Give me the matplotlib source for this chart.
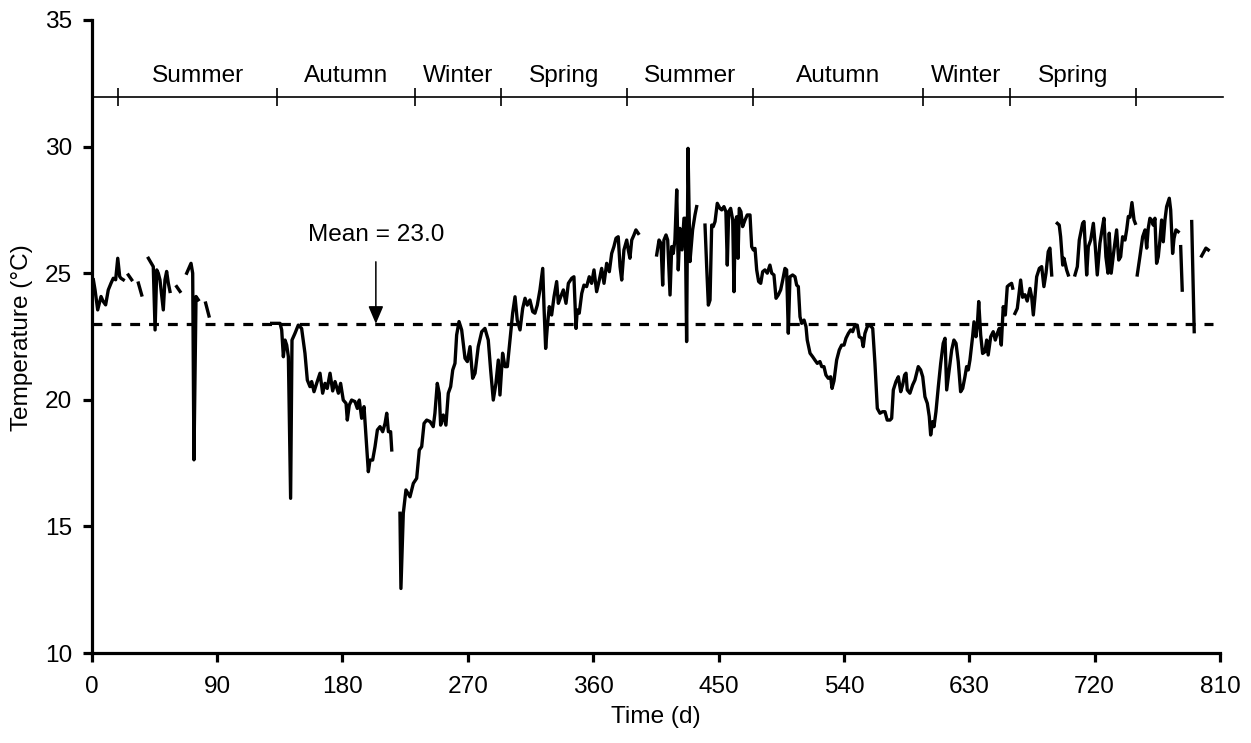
import numpy as np
import matplotlib
matplotlib.use('Agg')
import matplotlib.pyplot as plt

# ---------------- data ----------------
# daily water temperature (None = missing data / gap)
day = [
    1.2, 2.4, 4.3, 6.7, 8.3, 10.0, 11.9, 13.9, 15.5, 17.2, 18.7, 20.1, 21.0, 22.7, None,
    26.3, 28.7, None,
    33.5, 35.9, None,
    40.7, 42.1, 44.2, 45.5, 46.7, 47.8, 49.0, 51.4, 52.6, 53.8, 55.0, 56.2, None,
    61.0, 63.4, None,
    68.2, 71.3, 72.5, 73.4, 74.9, 76.5, None,
    81.8, 84.2, None,
    129.2, 135.2, 136.4, 137.6, 138.8, 140.0, 141.2, 142.8, 143.8, 145.9, 148.3, 150.7,
    153.1, 154.8, 156.7, 157.9, 159.6, 161.5, 163.9, 165.8, 167.5, 169.1, 171.1, 173.0,
    174.7, 177.1, 178.7, 180.6, 182.6, 183.5, 184.9, 186.6, 189.0, 190.7, 192.1, 193.8,
    195.5, 196.9, 198.6, 199.8, 201.7, 203.4, 205.1, 207.0, 208.9, 210.6, 211.8, 213.0,
    214.6, 215.4, None,
    221.3, 222.0, 223.7, 225.6, 228.5, 230.9, 233.3, 235.2, 236.9, 238.6, 240.5, 242.9,
    245.2, 246.4, 248.1, 249.5, 250.5, 252.4, 254.3, 256.0, 257.7, 259.2, 260.8, 262.0,
    263.7, 265.6, 268.0, 269.7, 271.6, 273.5, 275.2, 277.5, 280.0, 282.3, 284.7, 286.4,
    288.3, 290.2, 291.9, 293.1, 295.0, 296.7, 298.4, 300.3, 302.2, 303.9, 305.5, 307.5,
    309.4, 311.1, 312.7, 314.6, 316.6, 318.2, 319.9, 321.8, 323.8, 324.7, 325.9, 327.1,
    328.5, 330.2, 331.9, 333.8, 335.0, 336.7, 338.6, 340.5, 342.2, 344.6, 346.2, 347.7,
    348.6, 350.0, 351.8, 353.4, 355.3, 357.2, 358.9, 360.6, 362.5, 364.4, 366.1, 367.8,
    369.7, 371.6, 373.3, 374.9, 376.4, 378.0, 379.3, 380.5, 382.1, 384.1, 385.2, 386.4,
    387.7, 389.3, 390.7, 392.4, None,
    405.6, 407.3, 408.7, 409.9, 410.8, 412.3, 413.5, 415.2, 416.4, 417.5, 418.7, 420.0,
    421.1, 422.3, 423.8, 425.2, 426.1, 427.1, 428.1, 429.5, 431.4, 433.1, 434.3, None,
    440.3, 441.5, 442.7, 443.9, 445.1, 446.2, 447.5, 449.1, 451.0, 452.3, 453.9, 455.3,
    456.3, 457.3, 458.7, 460.2, 461.1, 462.0, 463.0, 464.0, 464.9, 466.1, 467.3, 469.0,
    470.6, 472.6, 473.8, 475.0, 476.2, 477.4, 478.8, 480.3, 481.7, 483.3, 485.0, 486.9,
    488.2, 489.8, 491.3, 492.9, 494.6, 496.1, 497.7, 498.9, 500.1, 501.3, 503.2, 504.9,
    506.1, 507.3, 508.5, 509.7, 511.4, 512.8, 513.7, 515.7, 517.6, 519.2, 520.9, 522.8,
    524.1, 525.7, 527.1, 528.8, 530.5, 531.5, 532.9, 534.8, 536.7, 538.4, 540.1, 541.5,
    543.2, 544.9, 546.3, 548.0, 549.6, 551.0, 552.8, 553.9, 555.1, 556.8, 558.7, 560.7,
    562.3, 564.0, 565.9, 567.8, 569.5, 571.1, 573.1, 574.3, 575.5, 577.4, 579.1, 580.8,
    582.2, 583.6, 584.6, 585.5, 587.4, 589.4, 591.0, 593.4, 595.1, 596.6, 598.2, 599.9,
    601.3, 602.3, 603.7, 604.7, 606.1, 607.8, 609.5, 611.3, 612.6, 613.8, 615.6, 617.4,
    619.0, 620.5, 622.1, 623.8, 625.3, 626.9, 628.1, 629.3, 630.5, 632.4, 633.4, 634.8,
    635.8, 636.8, 638.2, 639.6, 641.3, 642.5, 643.6, 645.4, 647.2, 648.7, 650.1, 651.6,
    653.0, 654.4, 655.9, 657.3, 658.7, 660.4, 661.2, None,
    662.8, 664.5, 666.9, 668.3, 670.0, 671.6, 673.6, 674.8, 676.0, 677.2, 678.4, 680.3,
    682.0, 683.6, 685.1, 686.7, 687.9, 689.2, None,
    693.2, 694.6, 695.6, 697.1, 698.0, 699.9, 701.1, None,
    705.9, 707.6, 709.0, 710.0, 711.4, 712.4, 714.3, 715.5, 717.2, 719.1, 720.5, 721.9,
    723.8, 725.3, 726.7, 728.1, 729.6, 730.5, 731.9, 733.9, 735.8, 737.3, 738.7, 740.1,
    741.8, 743.0, 744.2, 745.4, 746.8, 748.3, 749.2, None,
    750.6, 752.5, 754.5, 756.2, 757.4, 758.5, 759.7, 760.9, 762.1, 763.3, 764.5, 765.7,
    766.9, 768.1, 769.3, 770.5, 771.7, 773.6, 774.6, 776.0, 777.0, 778.4, 780.0, None,
    781.8, 782.9, None,
    789.7, 791.5, None,
    796.8, 799.9, 801.6,
]
temp = [
    24.74, 24.34, 23.55, 24.08, 23.88, 23.75, 24.34, 24.61, 24.80, 24.74, 25.59, 24.87, 24.80, 24.74, None,
    24.93, 24.74, None,
    24.61, 24.14, None,
    25.59, 25.46, 25.26, 22.76, 25.13, 25.00, 24.74, 23.55, 24.74, 25.07, 24.61, 24.28, None,
    24.47, 24.28, None,
    25.00, 25.39, 25.00, 17.63, 24.08, 23.95, None,
    23.82, 23.31, None,
    23.02, 23.02, 22.76, 21.70, 22.36, 22.16, 21.70, 16.11, 22.36, 22.62, 22.95, 22.82,
    21.84, 20.78, 20.52, 20.72, 20.32, 20.65, 21.05, 20.26, 20.65, 20.45, 21.05, 20.35,
    20.72, 20.26, 20.65, 19.99, 19.86, 19.20, 19.79, 19.99, 19.93, 19.66, 19.99, 19.27,
    19.73, 18.54, 17.16, 17.62, 17.62, 18.15, 18.81, 18.94, 18.74, 19.07, 19.47, 18.74,
    18.74, 18.02, None,
    15.52, 12.55, 15.52, 16.44, 16.17, 16.70, 16.90, 18.02, 18.15, 19.07, 19.20, 19.14,
    18.94, 19.47, 20.65, 20.26, 19.00, 19.40, 19.00, 20.26, 20.52, 21.18, 21.44, 22.56,
    23.09, 22.76, 21.64, 21.51, 22.10, 20.85, 21.05, 22.10, 22.69, 22.82, 22.36, 21.18,
    19.99, 20.65, 21.57, 20.19, 21.84, 21.31, 21.31, 22.36, 23.42, 24.07, 23.15, 22.76,
    23.61, 24.01, 23.74, 23.94, 23.48, 23.42, 23.74, 24.34, 25.19, 23.68, 22.03, 22.89,
    23.68, 23.35, 24.07, 24.67, 23.81, 24.07, 24.34, 23.81, 24.60, 24.80, 24.86, 22.82,
    23.55, 23.42, 24.20, 24.53, 24.47, 24.86, 24.60, 25.13, 24.27, 24.73, 25.19, 24.60,
    25.39, 25.06, 25.78, 26.05, 26.38, 26.44, 25.26, 24.73, 25.92, 26.31, 25.92, 25.59,
    26.31, 26.51, 26.71, 26.57, None,
    25.72, 26.31, 26.18, 24.53, 26.31, 26.51, 26.31, 24.14, 26.05, 25.78, 26.31, 28.29,
    25.13, 26.77, 25.92, 27.17, 27.17, 22.30, 29.93, 25.46, 26.71, 27.30, 27.63, None,
    26.90, 25.26, 23.74, 23.94, 26.90, 26.84, 27.04, 27.76, 27.56, 27.50, 27.63, 27.43,
    25.32, 27.43, 27.56, 27.10, 24.27, 26.97, 27.23, 25.59, 27.56, 27.43, 26.84, 27.10,
    27.30, 27.30, 26.05, 25.92, 25.98, 25.13, 24.67, 24.60, 25.06, 25.13, 25.00, 25.32,
    25.00, 24.93, 24.01, 24.14, 24.34, 24.73, 25.19, 25.13, 22.63, 24.86, 24.93, 24.86,
    24.53, 24.47, 23.28, 23.02, 23.15, 22.89, 22.36, 21.84, 21.70, 21.57, 21.44, 21.51,
    21.31, 21.31, 20.98, 20.85, 20.91, 20.45, 20.75, 21.57, 21.97, 22.16, 22.16, 22.43,
    22.62, 22.76, 22.69, 22.95, 22.95, 22.49, 22.43, 22.10, 22.62, 22.89, 22.95, 22.82,
    21.44, 19.66, 19.47, 19.53, 19.53, 19.20, 19.20, 19.27, 20.39, 20.72, 20.91, 20.32,
    20.59, 20.98, 21.05, 20.39, 20.26, 20.59, 20.78, 21.31, 21.18, 20.91, 20.12, 19.86,
    19.34, 18.61, 19.14, 18.94, 19.53, 20.52, 21.44, 22.23, 22.43, 20.39, 21.18, 21.97,
    22.36, 22.23, 21.51, 20.32, 20.45, 20.91, 21.31, 21.18, 21.57, 22.49, 23.08, 22.49,
    22.95, 23.88, 22.56, 21.83, 21.90, 22.36, 21.77, 22.49, 22.69, 22.36, 22.62, 22.82,
    22.16, 23.68, 23.35, 24.47, 24.54, 24.60, 24.41, None,
    23.41, 23.61, 24.73, 24.05, 24.15, 23.90, 24.40, 24.07, 23.35, 24.07, 24.86, 25.19,
    25.26, 24.47, 25.00, 25.85, 25.99, 24.93, None,
    26.97, 26.90, 26.44, 25.32, 25.59, 25.13, 24.93, None,
    24.93, 25.26, 26.31, 26.58, 26.97, 27.04, 24.93, 26.05, 26.31, 26.97, 26.05, 24.93,
    26.18, 26.71, 27.17, 25.65, 25.00, 26.58, 25.00, 25.92, 26.71, 25.52, 25.65, 26.44,
    26.31, 26.71, 27.24, 27.21, 27.79, 27.10, 26.97, None,
    24.93, 25.65, 26.44, 26.71, 25.99, 26.77, 27.17, 27.10, 26.90, 27.17, 25.39, 25.65,
    26.31, 27.10, 26.24, 27.10, 27.63, 27.96, 27.50, 25.78, 26.37, 26.71, 26.64, None,
    26.05, 24.33, None,
    27.04, 22.69, None,
    25.68, 25.99, 25.92,
]
mean_temp = 23.0
mean_label = 'Mean = 23.0'
season_bounds = [19, 133, 232, 294, 384, 475, 597, 659, 750]
season_names = ['Summer', 'Autumn', 'Winter', 'Spring',
                'Summer', 'Autumn', 'Winter', 'Spring']
x_ticks = list(range(0, 811, 90))
y_ticks = list(range(10, 36, 5))

# ---------------- plot ----------------
plt.rcParams['font.family'] = ['Liberation Sans', 'DejaVu Sans']
FS = 17.6

d = np.array([np.nan if v is None else v for v in day], dtype=float)
t = np.array([np.nan if v is None else v for v in temp], dtype=float)

fig = plt.figure(figsize=(12.51, 7.43), dpi=100)
ax = fig.add_axes([0.0733, 0.1211, 0.9019, 0.8520])

ax.set_xlim(0, 810)
ax.set_ylim(10, 35)

# mean line
ax.axhline(mean_temp, xmin=0, xmax=805 / 810, color='black', lw=2.3,
           linestyle=(0, (3.1, 2.8)), zorder=2)

# temperature series
ax.plot(d, t, color='black', lw=2.4, zorder=3)

# arrow + mean label
mx = 204
ax.annotate('', xy=(mx, mean_temp), xytext=(mx, 25.45),
            arrowprops=dict(arrowstyle='-|>,head_length=0.4,head_width=0.17',
                            mutation_scale=27, color='black', lw=1.1,
                            shrinkA=0, shrinkB=0), zorder=4)
ax.text(mx, 26.26, mean_label, ha='center', va='baseline', fontsize=FS)

# season bar
sy = 31.95
ax.plot([0, 812], [sy, sy], color='black', lw=1.2, clip_on=False, zorder=2)
ax.plot(season_bounds, [sy] * len(season_bounds), ls='none', marker='|',
        ms=13, mew=1.2, color='black', clip_on=False, zorder=2)
for i, name in enumerate(season_names):
    xc = 0.5 * (season_bounds[i] + season_bounds[i + 1])
    ax.text(xc, 32.55, name, ha='center', va='baseline', fontsize=FS)

# axes styling
for s in ['top', 'right']:
    ax.spines[s].set_visible(False)
for s in ['left', 'bottom']:
    ax.spines[s].set_linewidth(2.3)
ax.set_xticks(x_ticks)
ax.set_yticks(y_ticks)
ax.tick_params(axis='both', direction='out', length=6.2, width=2.3,
               labelsize=FS, colors='black')
ax.tick_params(axis='x', pad=10.5)
ax.tick_params(axis='y', pad=8)

fig.text(656 / 1251, 1 - 723 / 743, 'Time (d)', ha='center', va='baseline',
         fontsize=FS)
fig.text(22.5 / 1251, 1 - 338 / 743, 'Temperature (°C)', ha='center',
         va='center', rotation=90, fontsize=FS)

fig.savefig('out.png', dpi=100)
